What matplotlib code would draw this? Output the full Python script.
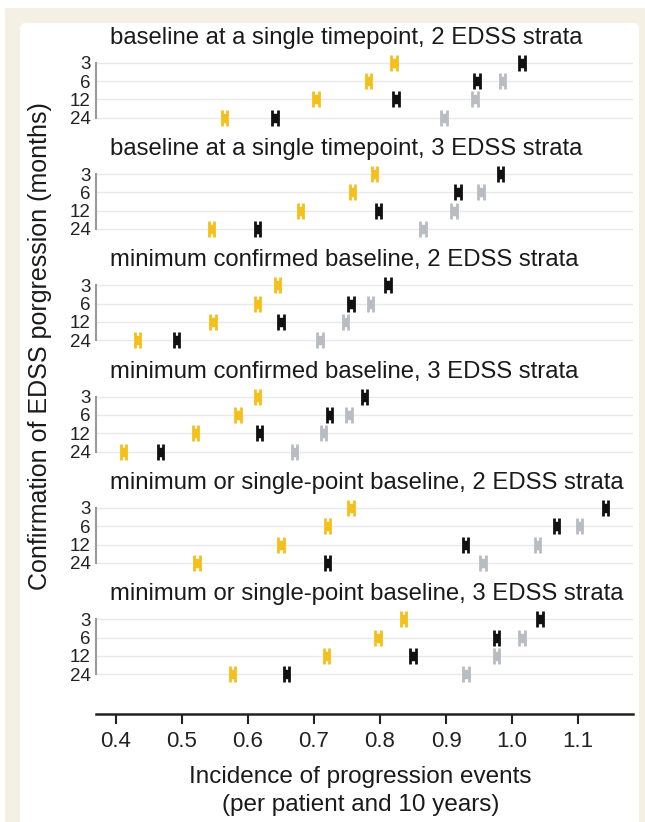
import matplotlib
matplotlib.use('Agg')
import matplotlib.pyplot as plt
from matplotlib.patches import FancyBboxPatch, Rectangle
import numpy as np

plt.rcParams.update({
    'font.family': ['Liberation Sans', 'DejaVu Sans'],
})

# ── data ─────────────────────────────────────────────────────
panel_titles = [
    'baseline at a single timepoint, 2 EDSS strata',
    'baseline at a single timepoint, 3 EDSS strata',
    'minimum confirmed baseline, 2 EDSS strata',
    'minimum confirmed baseline, 3 EDSS strata',
    'minimum or single-point baseline, 2 EDSS strata',
    'minimum or single-point baseline, 3 EDSS strata',
]
row_labels = ['3', '6', '12', '24']
x_ticks = [0.4, 0.5, 0.6, 0.7, 0.8, 0.9, 1.0, 1.1]

# one list per panel, values for rows 3, 6, 12, 24 months
yellow = [
    [0.821, 0.783, 0.703, 0.565],
    [0.792, 0.758, 0.680, 0.545],
    [0.645, 0.615, 0.547, 0.433],
    [0.615, 0.585, 0.521, 0.412],
    [0.756, 0.721, 0.650, 0.523],
    [0.836, 0.797, 0.719, 0.577],
]
black = [
    [1.015, 0.947, 0.824, 0.641],
    [0.982, 0.918, 0.798, 0.615],
    [0.812, 0.756, 0.650, 0.492],
    [0.777, 0.723, 0.618, 0.468],
    [1.141, 1.067, 0.929, 0.720],
    [1.042, 0.976, 0.850, 0.658],
]
gray = [
    [np.nan, 0.985, 0.944, 0.897],
    [np.nan, 0.953, 0.912, 0.865],
    [np.nan, 0.786, 0.748, 0.709],
    [np.nan, 0.753, 0.714, 0.671],
    [np.nan, 1.102, 1.038, 0.956],
    [np.nan, 1.015, 0.976, 0.930],
]

# ── style ────────────────────────────────────────────────────
C_YELLOW = '#F4C01C'
C_BLACK = '#111111'
C_GRAY = '#B8BCC3'
C_CREAM = '#F4F0E3'
C_GRID = '#E6E8EB'
C_SPINE = '#9A9A9A'
C_TEXT = '#1a1a1a'

W, H = 645, 822
FIRST_ROW = 62.7     # px, row "3" of first panel
ROW_STEP = 18.33     # px between rows
PANEL_STEP = 111.3   # px between panels
AX_L, AX_R = 96, 633
XLIM = (0.37, 1.183)

fig = plt.figure(figsize=(W / 100, H / 100), dpi=100)
fig.patch.set_facecolor('white')
fig.patches.append(Rectangle((5 / W, 0), 1, 1 - 8 / H, transform=fig.transFigure,
                             facecolor=C_CREAM, edgecolor='none', zorder=-3))
fig.patches.append(FancyBboxPatch((20 / W, -0.05), (639 - 20) / W, 1.05 - 23 / H,
                                  boxstyle='round,pad=0,rounding_size=0.008',
                                  transform=fig.transFigure, facecolor='white',
                                  edgecolor='none', zorder=-2))

rows = np.arange(len(row_labels))
axes = []
for i, title in enumerate(panel_titles):
    row0 = FIRST_ROW + i * PANEL_STEP
    top = row0 - 0.6 * ROW_STEP
    bot = row0 + 3.6 * ROW_STEP
    ax = fig.add_axes([AX_L / W, 1 - bot / H, (AX_R - AX_L) / W, (bot - top) / H])
    ax.set_facecolor('none')
    ax.set_xlim(*XLIM)
    ax.set_ylim(3.6, -0.6)

    for vals, col in [(gray[i], C_GRAY), (yellow[i], C_YELLOW), (black[i], C_BLACK)]:
        eb = ax.errorbar(vals, rows, xerr=0.004, fmt='none', ecolor=col,
                         elinewidth=6.8, capsize=5.6, capthick=2.0, zorder=3)
        eb[2][0].set_capstyle('butt')

    ax.set_yticks(rows)
    ax.set_yticklabels(row_labels, fontsize=13.5)
    ax.yaxis.grid(True, color=C_GRID, lw=1.0, zorder=0)
    ax.tick_params(axis='y', length=0, pad=4, colors='#222222')
    for s in ['top', 'right', 'bottom']:
        ax.spines[s].set_visible(False)
    ax.spines['left'].set_color(C_SPINE)
    ax.spines['left'].set_linewidth(1.5)
    ax.spines['left'].set_bounds(0, 3)
    ax.set_xticks([])

    fig.text(110 / W, 1 - (row0 - 25) / H, title, fontsize=17.2,
             ha='left', va='center', color=C_TEXT)
    axes.append(ax)

# bottom x axis on the last panel
ax = axes[-1]
ax.spines['bottom'].set_visible(True)
ax.spines['bottom'].set_position(('outward', 21))
ax.spines['bottom'].set_linewidth(1.8)
ax.spines['bottom'].set_color('#222222')
ax.set_xticks(x_ticks)
ax.set_xticklabels([f'{v:.1f}' for v in x_ticks], fontsize=16)
ax.tick_params(axis='x', length=7, width=1.5, direction='out', pad=5, colors='#222222')

fig.text((AX_L + AX_R) / 2 / W - 4 / W, 1 - 791 / H,
         'Incidence of progression events\n(per patient and 10 years)',
         fontsize=17.5, ha='center', va='center', color=C_TEXT, linespacing=1.3)
fig.text(40 / W, 1 - 346 / H, 'Confirmation of EDSS porgression (months)',
         fontsize=18, rotation=90, ha='center', va='center', color=C_TEXT)

fig.savefig('out.png', dpi=100, facecolor=fig.get_facecolor())
plt.close(fig)
